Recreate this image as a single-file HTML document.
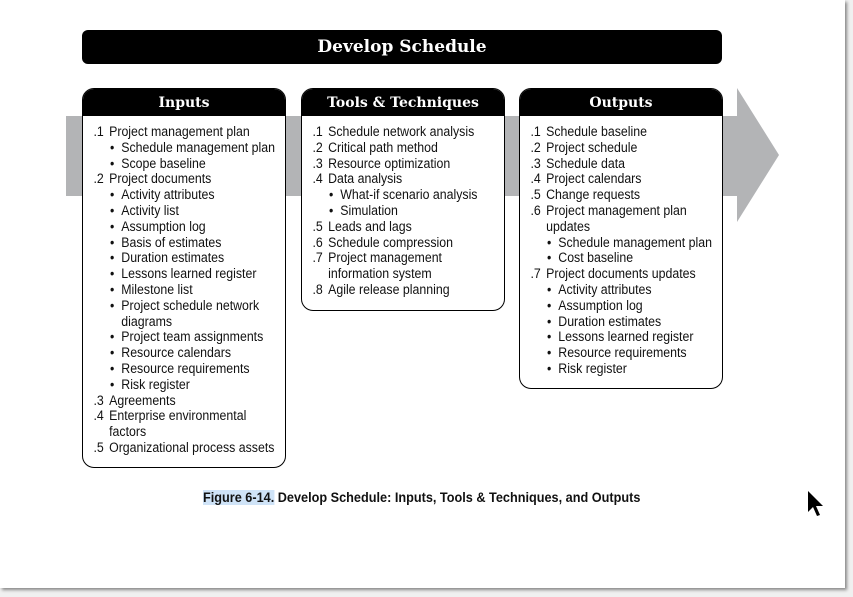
<!DOCTYPE html>
<html><head><meta charset="utf-8"><style>
body{margin:0;width:853px;height:597px;background:#f0f0f0;position:relative;overflow:hidden;font-family:"Liberation Sans",sans-serif;}
.page{position:absolute;left:0;top:0;width:845px;height:588px;background:#fff;box-shadow:2px 2px 3px #888;}
.bar{position:absolute;left:82px;top:30px;width:640px;height:34px;background:#000;border-radius:6px;color:#fff;font:bold 17px "DejaVu Serif","Liberation Serif",serif;text-align:center;line-height:34px;}
.box{position:absolute;top:88px;width:202px;background:#fff;border:1.5px solid #000;border-radius:12px;overflow:hidden;}
.hd{height:27px;background:#000;color:#fff;font:bold 14px "DejaVu Serif","Liberation Serif",serif;text-align:center;line-height:28px;}
.bd{padding:9px 0 0 0;font-size:14.2px;line-height:15.8px;color:#111;transform:scaleX(0.87);transform-origin:0 0;width:245px;}
.l{position:relative;padding-left:30px;white-space:nowrap;}
.l b{font-weight:normal;position:absolute;left:12px;}
.s{padding-left:44px;position:relative;white-space:nowrap;}
.s:before{content:"•";position:absolute;left:31px;}
.c{padding-left:30px;}
.c2{padding-left:44px;}
</style></head><body>
<div class="page"></div>
<svg style="position:absolute;left:0;top:0" width="853" height="597">
<polygon points="66,116 737,116 737,88 779,155 737,222 737,196 66,196" fill="#b3b4b6"/>
<path d="M808,491 L808,512 L813,507 L817,516 L820,515 L816,506 L823,506 Z" fill="#000"/>
</svg>
<div class="bar">Develop Schedule</div>
<div class="box" style="left:82px;height:378px">
<div class="hd">Inputs</div>
<div class="bd">
<div class="l"><b>.1</b>Project management plan</div>
<div class="s">Schedule management plan</div>
<div class="s">Scope baseline</div>
<div class="l"><b>.2</b>Project documents</div>
<div class="s">Activity attributes</div>
<div class="s">Activity list</div>
<div class="s">Assumption log</div>
<div class="s">Basis of estimates</div>
<div class="s">Duration estimates</div>
<div class="s">Lessons learned register</div>
<div class="s">Milestone list</div>
<div class="s">Project schedule network</div>
<div class="c2">diagrams</div>
<div class="s">Project team assignments</div>
<div class="s">Resource calendars</div>
<div class="s">Resource requirements</div>
<div class="s">Risk register</div>
<div class="l"><b>.3</b>Agreements</div>
<div class="l"><b>.4</b>Enterprise environmental</div>
<div class="c">factors</div>
<div class="l"><b>.5</b>Organizational process assets</div>
</div></div>
<div class="box" style="left:301px;height:221px">
<div class="hd">Tools &amp; Techniques</div>
<div class="bd">
<div class="l"><b>.1</b>Schedule network analysis</div>
<div class="l"><b>.2</b>Critical path method</div>
<div class="l"><b>.3</b>Resource optimization</div>
<div class="l"><b>.4</b>Data analysis</div>
<div class="s">What-if scenario analysis</div>
<div class="s">Simulation</div>
<div class="l"><b>.5</b>Leads and lags</div>
<div class="l"><b>.6</b>Schedule compression</div>
<div class="l"><b>.7</b>Project management</div>
<div class="c">information system</div>
<div class="l"><b>.8</b>Agile release planning</div>
</div></div>
<div class="box" style="left:519px;height:299px">
<div class="hd">Outputs</div>
<div class="bd">
<div class="l"><b>.1</b>Schedule baseline</div>
<div class="l"><b>.2</b>Project schedule</div>
<div class="l"><b>.3</b>Schedule data</div>
<div class="l"><b>.4</b>Project calendars</div>
<div class="l"><b>.5</b>Change requests</div>
<div class="l"><b>.6</b>Project management plan</div>
<div class="c">updates</div>
<div class="s">Schedule management plan</div>
<div class="s">Cost baseline</div>
<div class="l"><b>.7</b>Project documents updates</div>
<div class="s">Activity attributes</div>
<div class="s">Assumption log</div>
<div class="s">Duration estimates</div>
<div class="s">Lessons learned register</div>
<div class="s">Resource requirements</div>
<div class="s">Risk register</div>
</div></div>
<div style="position:absolute;left:203px;top:490px;font:bold 13.5px 'Liberation Sans',sans-serif;color:#111;white-space:nowrap;transform:scaleX(0.94);transform-origin:0 0"><span style="background:#cfe3f7">Figure 6-14.</span> Develop Schedule: Inputs, Tools &amp; Techniques, and Outputs</div>
</body></html>
